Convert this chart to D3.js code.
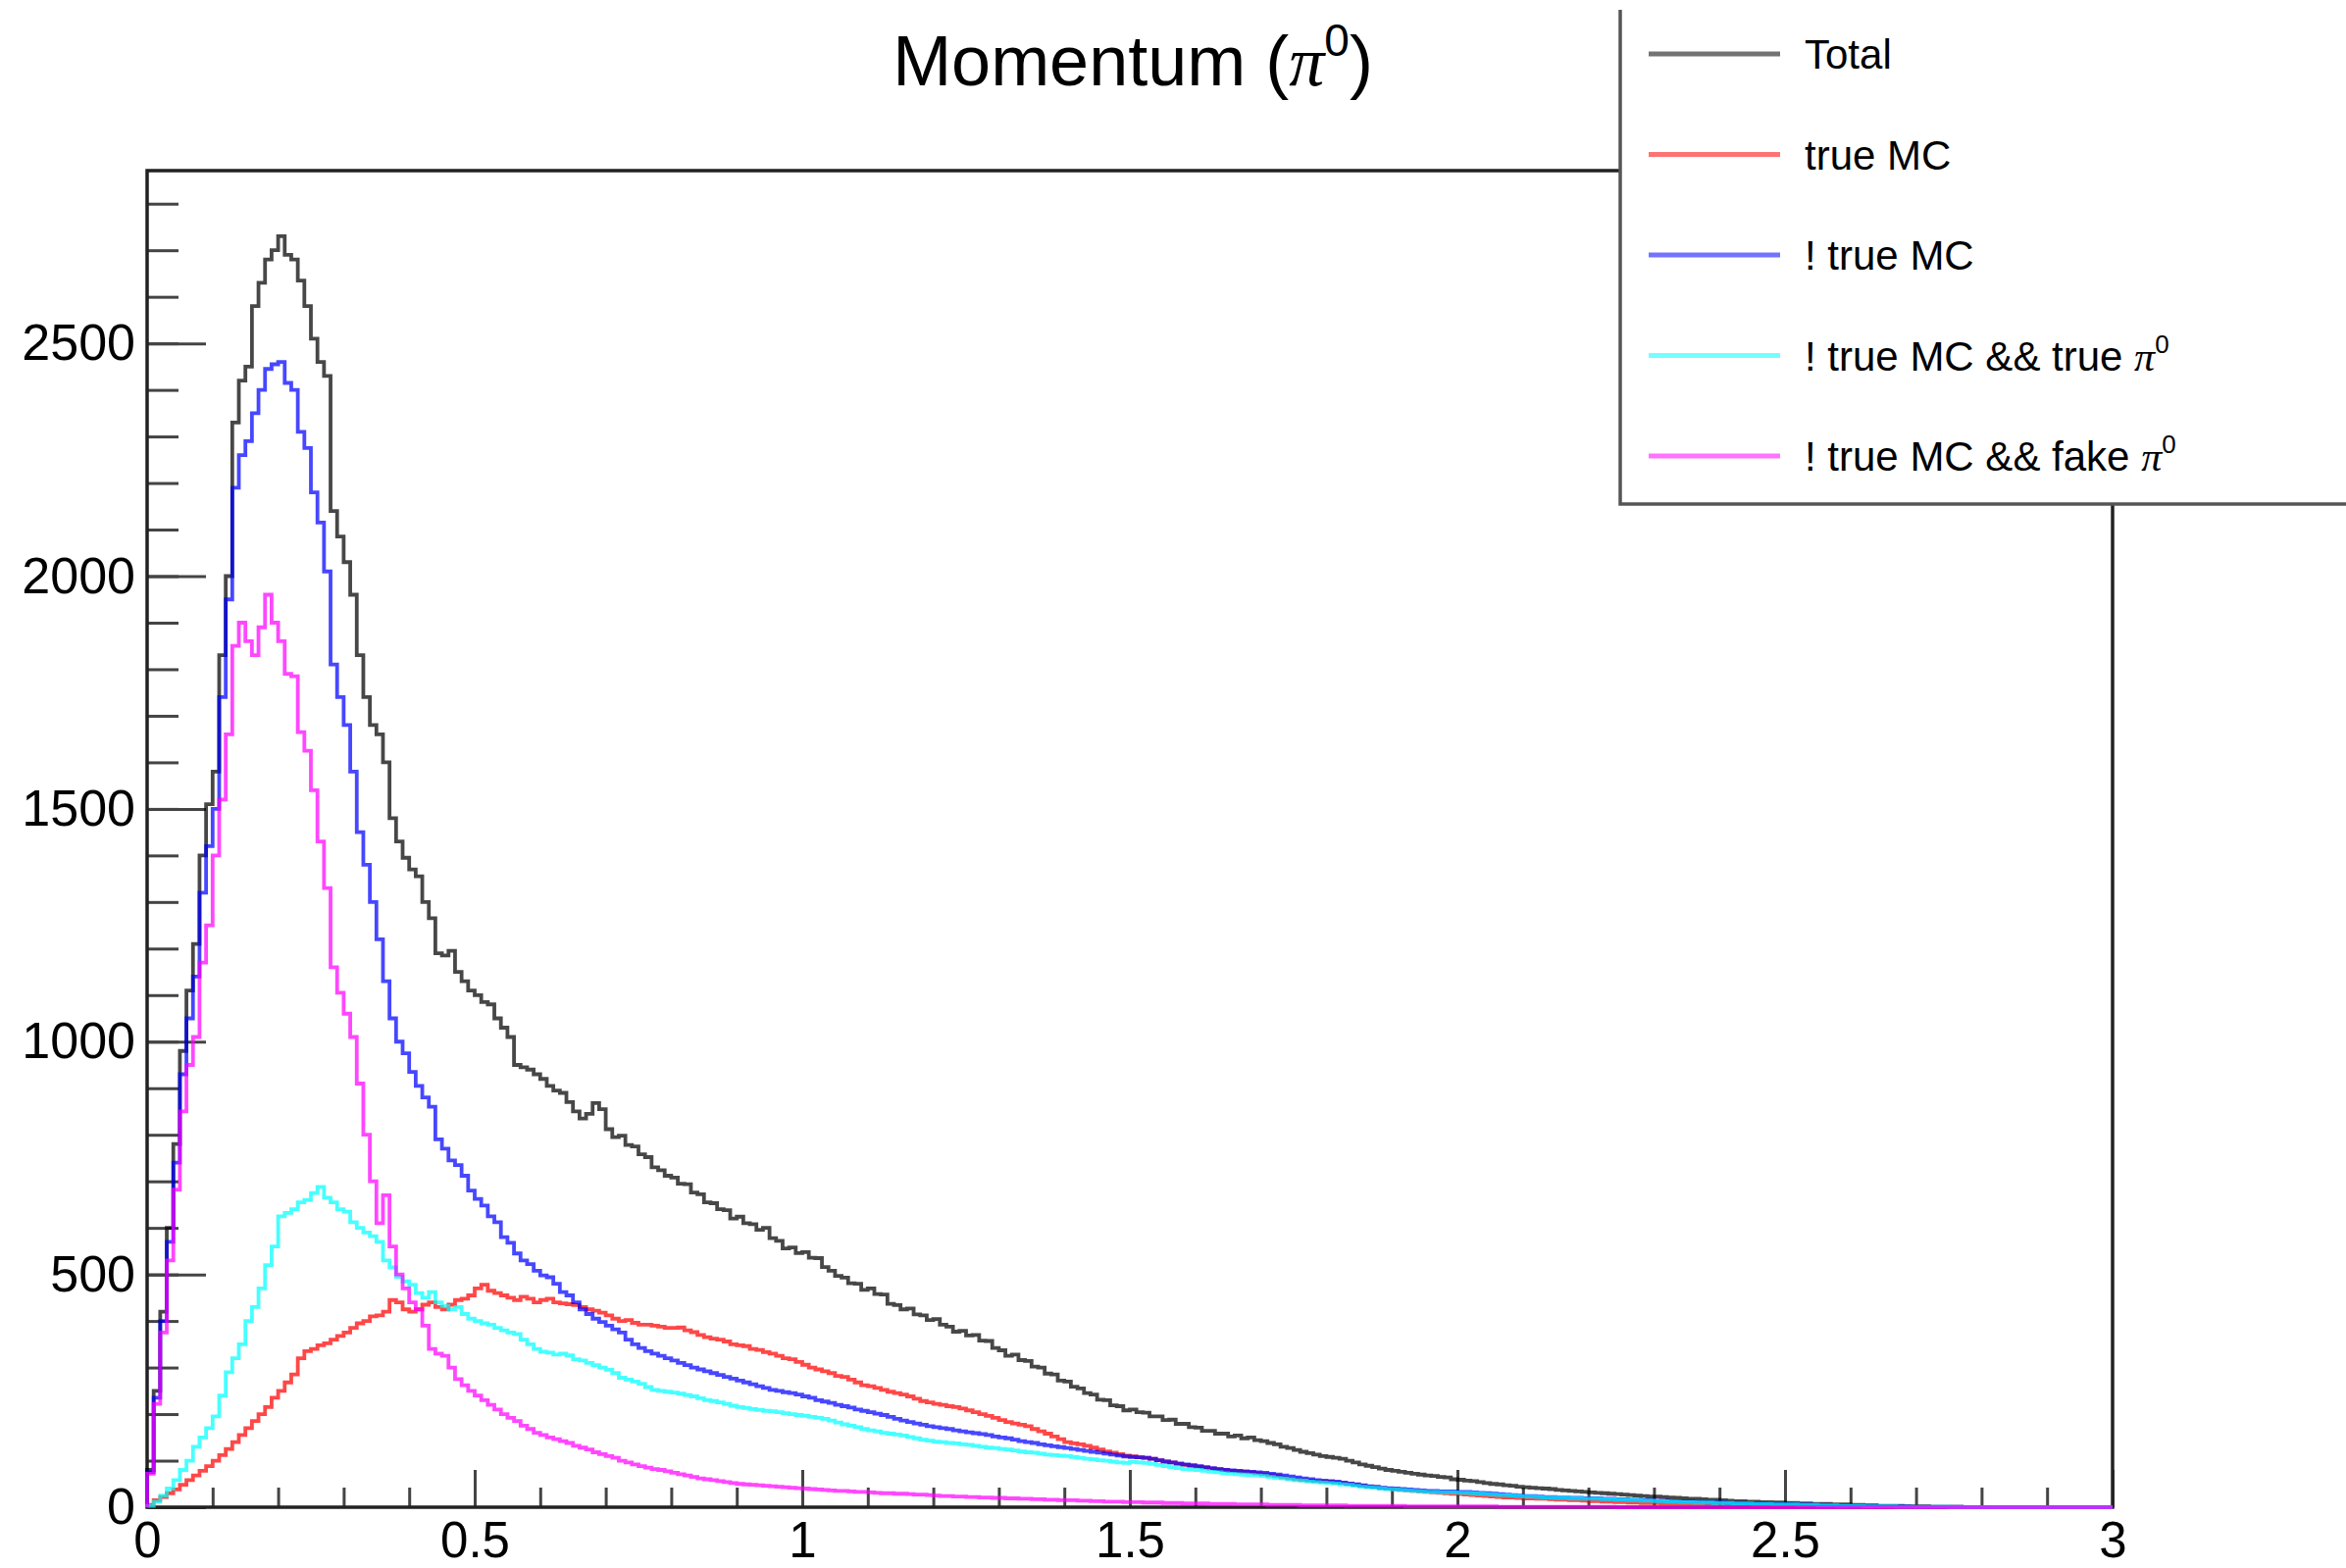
<!DOCTYPE html>
<html><head><meta charset="utf-8">
<script src="https://cdn.jsdelivr.net/npm/d3@7"></script>
<style>body{margin:0;background:#fff}svg{display:block;font-family:"Liberation Sans",Arial,Helvetica,sans-serif}</style>
</head><body><svg id="c" width="2392" height="1599"></svg>
<script>
// ---------------- DATA ----------------
const binLow = 0, binWidth = 0.01;   // 300 bins over [0,3]
const total = [
 80,250,420,600,780,980,1110,1210,1400,1510,
 1580,1830,2000,2330,2420,2450,2580,2630,2680,2700,
 2730,2690,2680,2635,2580,2510,2460,2430,2140,2085,
 2030,1960,1830,1740,1680,1660,1600,1480,1430,1395,
 1370,1355,1300,1265,1190,1185,1195,1150,1130,1110,
 1100,1085,1080,1050,1030,1010,950,945,940,930,
 920,905,895,890,870,850,835,845,868,855,
 812,795,798,778,775,758,752,730,724,712,
 708,695,694,676,672,655,653,640,638,620,
 624,610,608,596,600,578,572,556,558,546,
 548,536,535,516,508,497,493,481,480,467,
 470,458,457,437,434,425,427,414,412,402,
 404,392,388,377,379,369,370,358,357,342,
 337,325,328,316,314,302,300,287,285,272,
 270,259,255,245,242,231,230,219,217,208,
 210,204,203,195,195,187,188,179,179,172,
 171,164,164,158,158,152,154,148,150,144,
 142,138,135,130,127,123,119,116,113,110,
 108,106,104,100,96,92,89,86,83,80,
 78,76,74,72,70,68,67,65,64,60,
 59,57,56,54,52,50,49,47,46,44,
 43,42,41,40,39,37,36,35,34,33,
 32,31,30,29,28,27,26,25,24,23,
 23,22,21,20,19,18,18,17,16,16,
 15,14,13,13,12,12,11,11,10,10,
 9,9,8,8,7,7,7,6,6,6,
 5,5,4,4,3,3,3,3,2,2,
 2,2,1,1,1,1,1,0,0,0,
 0,0,0,0,0,0,0,0,0,0,
 0,0,0,0,0,0,0,0,0,0];
const trueMC = [
 5,15,22,30,38,48,58,68,78,88,
 100,112,125,140,155,170,185,200,215,235,
 250,268,285,320,335,340,348,352,360,368,
 375,385,395,400,410,412,420,445,440,425,
 420,425,435,440,430,425,435,445,448,455,
 470,478,465,460,455,450,445,452,448,440,
 445,448,440,438,436,434,430,425,422,418,
 412,405,400,402,396,392,392,390,388,385,
 385,386,380,376,370,365,362,360,356,350,
 348,346,340,338,333,330,325,320,318,312,
 306,300,296,292,288,282,280,274,268,262,
 260,256,252,248,245,242,238,233,228,225,
 222,220,217,215,212,208,204,200,196,192,
 187,183,180,177,174,168,163,158,152,146,
 140,137,135,132,128,124,120,117,114,111,
 109,107,106,104,101,98,96,93,91,89,
 87,85,83,82,80,78,77,76,75,73,
 71,69,67,64,62,60,58,57,56,55,
 55,53,52,50,48,46,44,43,41,40,
 38,37,36,35,34,33,32,31,30,29,
 28,27,26,25,24,23,22,21,21,20,
 19,19,18,18,17,16,16,15,15,14,
 13,13,12,12,11,11,10,10,9,9,
 9,8,8,8,7,7,7,6,6,6,
 6,5,5,5,5,4,4,4,4,3,
 3,3,3,3,3,2,2,2,2,2,
 2,2,1,1,1,1,1,1,1,1,
 1,1,0,0,0,0,0,0,0,0,
 0,0,0,0,0,0,0,0,0,0,
 0,0,0,0,0,0,0,0,0,0];
const notTrueMC = [
 75,235,400,570,740,930,1050,1140,1320,1420,
 1500,1740,1950,2190,2260,2290,2350,2400,2445,2455,
 2460,2415,2400,2310,2275,2180,2115,2010,1810,1740,
 1680,1580,1450,1380,1300,1220,1130,1050,1000,975,
 935,905,880,860,790,770,745,735,712,680,
 662,648,625,612,580,568,545,530,522,508,
 498,494,480,462,455,440,425,415,405,398,
 390,382,375,360,350,342,335,330,325,320,
 315,310,305,300,296,292,288,284,280,276,
 272,268,264,260,256,252,250,247,245,242,
 238,235,230,227,224,220,217,214,210,207,
 204,201,198,194,190,186,183,180,177,174,
 172,170,168,165,163,161,159,157,155,152,
 150,148,145,142,140,138,135,133,131,129,
 127,125,123,121,119,117,115,113,111,109,
 108,107,106,104,101,98,96,94,92,90,
 88,86,84,82,80,79,78,77,76,75,
 74,72,70,68,66,64,62,60,58,57,
 56,55,53,51,49,47,45,44,42,41,
 40,39,38,37,36,35,35,34,34,34,
 33,33,32,31,30,29,28,27,26,25,
 24,24,23,22,22,21,21,20,20,19,
 19,19,18,18,17,17,16,16,15,15,
 14,14,13,13,12,12,11,11,10,10,
 10,9,9,9,8,8,8,7,7,7,
 7,6,6,6,5,5,5,4,4,4,
 3,3,3,3,2,2,2,2,2,1,
 1,1,1,1,1,1,1,0,0,0,
 0,0,0,0,0,0,0,0,0,0,
 0,0,0,0,0,0,0,0,0,0];
const notTrueMCTruePi0 = [
 3,12,25,40,58,80,100,130,150,170,
 195,240,290,320,350,400,430,470,520,560,
 625,632,640,655,660,675,688,665,655,640,
 635,612,600,590,582,570,530,515,495,485,
 478,460,450,462,440,432,425,430,415,405,
 400,395,392,385,380,375,372,360,350,340,
 334,332,328,330,326,318,315,310,305,300,
 295,288,278,274,270,265,258,252,250,248,
 246,244,241,238,234,230,228,225,222,218,
 215,213,211,209,207,206,204,202,200,198,
 196,194,192,190,186,182,178,175,172,168,
 165,163,160,158,156,154,151,148,145,143,
 141,140,138,137,135,134,132,130,128,127,
 125,124,122,120,118,117,115,113,112,111,
 110,108,106,104,103,101,100,98,96,95,
 97,96,95,93,91,88,86,84,82,81,
 80,78,76,75,73,72,71,70,69,68,
 67,65,63,62,60,58,57,55,54,53,
 52,51,49,48,46,44,43,42,40,39,
 38,37,36,35,34,33,33,32,32,32,
 31,31,30,29,28,27,26,26,25,24,
 23,23,22,21,21,20,20,19,19,18,
 18,18,17,17,16,16,15,15,14,14,
 13,13,12,12,11,11,10,10,10,9,
 9,9,8,8,8,7,7,7,6,6,
 6,6,5,5,5,4,4,4,3,3,
 3,3,2,2,2,2,2,1,1,1,
 1,1,1,1,1,0,0,0,0,0,
 0,0,0,0,0,0,0,0,0,0,
 0,0,0,0,0,0,0,0,0,0];
const notTrueMCFakePi0 = [
 72,222,375,530,682,850,950,1010,1170,1250,
 1400,1520,1660,1850,1900,1860,1830,1890,1960,1900,
 1860,1790,1785,1665,1625,1540,1430,1330,1160,1105,
 1060,1010,910,800,700,610,670,560,500,470,
 440,425,390,340,330,325,300,275,262,250,
 240,230,220,210,200,192,185,175,168,160,
 155,150,146,142,138,132,128,124,118,114,
 110,106,100,96,92,88,85,82,80,77,
 74,71,68,65,62,60,58,56,54,52,
 50,49,48,47,46,45,44,43,42,41,
 40,39,38,37,36,35,35,34,33,33,
 32,31,30,30,29,29,28,27,27,26,
 25,24,24,23,23,22,22,21,21,20,
 20,19,19,18,18,17,17,16,16,15,
 15,15,14,14,13,13,12,12,12,11,
 11,11,10,10,10,9,9,9,8,8,
 8,8,7,7,7,7,6,6,6,6,
 6,5,5,5,5,5,4,4,4,4,
 4,4,4,3,3,3,3,3,3,3,
 3,3,2,2,2,2,2,2,2,2,
 2,2,2,2,2,2,1,1,1,1,
 1,1,1,1,1,1,1,1,1,1,
 1,1,1,1,0,0,0,0,0,0,
 0,0,0,0,0,0,0,0,0,0,
 0,0,0,0,0,0,0,0,0,0,
 0,0,0,0,0,0,0,0,0,0,
 0,0,0,0,0,0,0,0,0,0,
 0,0,0,0,0,0,0,0,0,0,
 0,0,0,0,0,0,0,0,0,0,
 0,0,0,0,0,0,0,0,0,0];
const legendLabels = ["Total","true MC","! true MC","! true MC && true π0","! true MC && fake π0"];
const xTickValues = [0,0.5,1,1.5,2,2.5,3];
const xTickLabels = ["0","0.5","1","1.5","2","2.5","3"];
const yTickValues = [0,500,1000,1500,2000,2500];
const yTickLabels = ["0","500","1000","1500","2000","2500"];
const xRange = [0,3];
const yRange = [0,2871];

// ---------------- LAYOUT ----------------
const W = 2392, H = 1599;
const P = {left:150, right:2154, top:174, bottom:1537};
const colors = ["#000000","#ff0000","#0000ff","#00ffff","#ff00ff"];
const seriesData = [total, trueMC, notTrueMC, notTrueMCTruePi0, notTrueMCFakePi0];

const x = d3.scaleLinear().domain(xRange).range([P.left, P.right]);
const y = d3.scaleLinear().domain(yRange).range([P.bottom, P.top]);
const svg = d3.select("#c");
svg.append("rect").attr("width",W).attr("height",H).attr("fill","#fff");

function styleTicks(g, w){
  g.select(".domain").remove();
  g.selectAll(".tick line").attr("stroke","#444").attr("stroke-width",w);
  g.selectAll(".tick text").remove();
}
// y ticks (inside, to the right)
svg.append("g").attr("transform",`translate(${P.left},0)`)
  .call(d3.axisRight(y).tickValues(d3.range(0,2801,100)).tickSize(32)).call(g=>styleTicks(g,3));
svg.append("g").attr("transform",`translate(${P.left},0)`)
  .call(d3.axisRight(y).tickValues(yTickValues).tickSize(60)).call(g=>styleTicks(g,3));
// x ticks (inside, upward)
svg.append("g").attr("transform",`translate(0,${P.bottom})`)
  .call(d3.axisTop(x).tickValues(d3.range(0,31).map(i=>i/10)).tickSize(20)).call(g=>styleTicks(g,3));
svg.append("g").attr("transform",`translate(0,${P.bottom})`)
  .call(d3.axisTop(x).tickValues(xTickValues).tickSize(38)).call(g=>styleTicks(g,3));

// labels
const yl = svg.append("g").attr("transform",`translate(${P.left},0)`)
  .call(d3.axisLeft(y).tickValues(yTickValues).tickSize(0).tickPadding(12).tickFormat((d,i)=>yTickLabels[i]));
yl.select(".domain").remove();
yl.selectAll("text").attr("font-size",52).attr("font-family","Liberation Sans, Arial, sans-serif").attr("fill","#000");
const xl = svg.append("g").attr("transform",`translate(0,${P.bottom})`)
  .call(d3.axisBottom(x).tickValues(xTickValues).tickSize(0).tickPadding(15).tickFormat((d,i)=>xTickLabels[i]));
xl.select(".domain").remove();
xl.selectAll("text").attr("font-size",51).attr("font-family","Liberation Sans, Arial, sans-serif").attr("fill","#000");

// frame
svg.append("rect").attr("x",P.left).attr("y",P.top).attr("width",P.right-P.left).attr("height",P.bottom-P.top)
  .attr("fill","none").attr("stroke","#222").attr("stroke-width",3.5);

// histograms
const line = d3.line().x(d=>x(d[0])).y(d=>y(d[1])).curve(d3.curveStepAfter);
seriesData.forEach((vals,k)=>{
  const pts = [[binLow,0]];
  vals.forEach((v,i)=>pts.push([binLow+i*binWidth, v]));
  const end = binLow+vals.length*binWidth;
  pts.push([end, vals[vals.length-1]]);
  pts.push([end, 0]);
  svg.append("path").attr("d",line(pts)).attr("fill","none")
    .attr("stroke",colors[k]).attr("stroke-opacity",0.72).attr("stroke-width",3.8)
    .attr("stroke-linejoin","miter");
});

// title
const title = svg.append("text").attr("x",1155).attr("y",87).attr("text-anchor","middle")
  .attr("font-size",72).attr("fill","#000");
title.append("tspan").text("Momentum (");
title.append("tspan").attr("font-family","Liberation Serif, serif").attr("font-style","italic").text("π");
title.append("tspan").attr("font-size",46).attr("dy",-30).text("0");
title.append("tspan").attr("dy",30).text(")");

// legend
const lg = svg.append("g");
lg.append("rect").attr("x",1652).attr("y",10).attr("width",W-1652+10).attr("height",504).attr("fill","#fff");
lg.append("path").attr("d",`M1652,10V514H${W+5}`).attr("fill","none").attr("stroke","#555").attr("stroke-width",3.5);
legendLabels.forEach((lab,i)=>{
  const yy = 55 + i*102.5;
  lg.append("line").attr("x1",1681).attr("x2",1815).attr("y1",yy).attr("y2",yy)
    .attr("stroke",colors[i]).attr("stroke-opacity",0.55).attr("stroke-width",5);
  const t = lg.append("text").attr("x",1840).attr("y",yy).attr("dy","0.36em").attr("font-size",42).attr("fill","#000");
  const m = lab.match(/^(.*)π0$/);
  if(m){
    t.append("tspan").text(m[1]);
    t.append("tspan").attr("font-family","Liberation Serif, serif").attr("font-style","italic").text("π");
    t.append("tspan").attr("font-size",26).attr("dy",-18).text("0");
  } else t.text(lab);
});
</script></body></html>
